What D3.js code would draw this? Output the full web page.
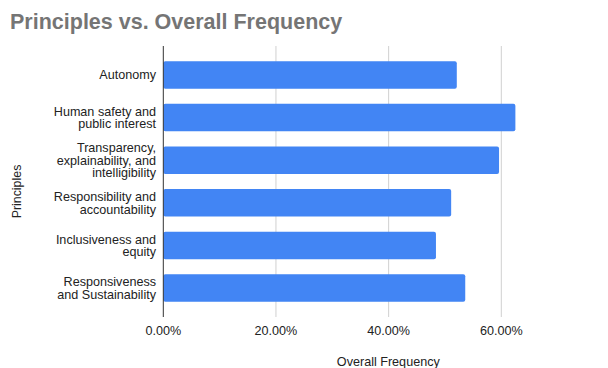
<!DOCTYPE html>
<meta charset="utf-8">
<script src="https://d3js.org/d3.v7.min.js"></script>
<style>
  body { margin: 0; background: #fff; }
  text { font-family: "Liberation Sans", Arial, sans-serif; }
</style>
<div id="chart"></div>
<script>

// data
var principles = [
  ["Autonomy"],
  ["Human safety and", "public interest"],
  ["Transparency,", "explainability, and", "intelligibility"],
  ["Responsibility and", "accountability"],
  ["Inclusiveness and", "equity"],
  ["Responsiveness", "and Sustainability"]
];
var frequency = [0.521, 0.625, 0.596, 0.511, 0.484, 0.536];
var xTicks = [0, 0.2, 0.4, 0.6];

var W = 608, H = 368;
var plotTop = 46, plotBottom = 317, plotLeft = 163.3;
var lineH = 12.6;

var svg = d3.select("#chart").append("svg")
  .attr("width", W)
  .attr("height", H);

var x = d3.scaleLinear()
  .domain([0, 0.6])
  .range([plotLeft, 501.3]);

var y = d3.scaleBand()
  .domain(d3.range(principles.length))
  .range([plotTop, plotBottom])
  .padding(0.356);

// title
svg.append("text")
  .attr("x", 10)
  .attr("y", 28.5)
  .style("font-size", "21.5px")
  .style("font-weight", "bold")
  .style("fill", "#757575")
  .text("Principles vs. Overall Frequency");

// gridlines
svg.selectAll(".grid")
  .data(xTicks.slice(1))
  .enter().append("line")
    .attr("class", "grid")
    .attr("x1", function(d) { return x(d); })
    .attr("x2", function(d) { return x(d); })
    .attr("y1", plotTop)
    .attr("y2", plotBottom)
    .style("stroke", "#d0d0d0")
    .style("stroke-width", 1);

// bars
svg.selectAll(".bar")
  .data(frequency)
  .enter().append("rect")
    .attr("class", "bar")
    .attr("x", x(0))
    .attr("y", function(d, i) { return y(i); })
    .attr("width", function(d) { return x(d) - x(0); })
    .attr("height", y.bandwidth())
    .attr("rx", 2)
    .style("fill", "#4285f4");

// baseline
svg.append("line")
  .attr("x1", x(0)).attr("x2", x(0))
  .attr("y1", plotTop).attr("y2", plotBottom)
  .style("stroke", "#333")
  .style("stroke-width", 1);

// x tick labels
svg.selectAll(".tick")
  .data(xTicks)
  .enter().append("text")
    .attr("class", "tick")
    .attr("x", function(d) { return x(d); })
    .attr("y", 334.5)
    .attr("text-anchor", "middle")
    .style("font-size", "12.6px")
    .style("fill", "#222")
    .text(d3.format(".2%"));

// category labels
var lab = svg.selectAll(".lab")
  .data(principles)
  .enter().append("text")
    .attr("class", "lab")
    .attr("text-anchor", "end")
    .style("font-size", "12.6px")
    .style("fill", "#222")
    .attr("transform", function(d, i) {
      var cy = y(i) + y.bandwidth() / 2 - (d.length - 1) * lineH / 2 + 4.4;
      return "translate(156," + cy + ")";
    });
lab.selectAll("tspan")
  .data(function(d) { return d; })
  .enter().append("tspan")
    .attr("x", 0)
    .attr("y", function(d, i) { return i * lineH; })
    .text(function(d) { return d; });

// axis titles
svg.append("text")
  .attr("x", 388.3)
  .attr("y", 366)
  .attr("text-anchor", "middle")
  .style("font-size", "12.6px")
  .style("fill", "#222")
  .text("Overall Frequency");

svg.append("text")
  .attr("transform", "translate(21,191.5) rotate(-90)")
  .attr("text-anchor", "middle")
  .style("font-size", "12.4px")
  .style("fill", "#222")
  .text("Principles");

</script>
